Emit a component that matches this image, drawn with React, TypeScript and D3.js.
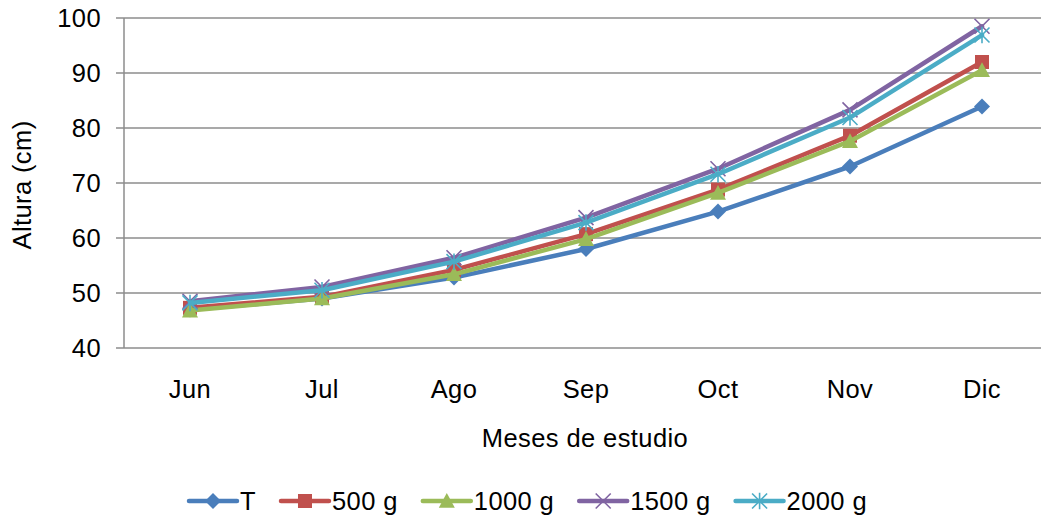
import React from "react";
import * as d3 from "d3";

const months = ["Jun", "Jul", "Ago", "Sep", "Oct", "Nov", "Dic"];
const seriesNames = ["T", "500 g", "1000 g", "1500 g", "2000 g"];
const seriesColors = ["#4A7EBB", "#C0504D", "#9BBB59", "#8064A2", "#4BACC6"];
const seriesMarkers = ["diamond", "square", "triangle", "x", "asterisk"];
const valuesT = [47, 49, 52.8, 58, 64.8, 73, 83.9];
const values500 = [47.3, 49.3, 54.2, 60.7, 68.8, 78.6, 92];
const values1000 = [46.8, 49, 53.4, 59.8, 68.2, 77.6, 90.5];
const values1500 = [48.5, 51.1, 56.4, 63.7, 72.6, 83.3, 98.5];
const values2000 = [48.2, 50.5, 55.7, 62.8, 71.6, 81.9, 96.9];
const yTicks = [40, 50, 60, 70, 80, 90, 100];

const allValues = [valuesT, values500, values1000, values1500, values2000];

const W = 1041;
const H = 517;
const FONT = "'Liberation Sans', Arial, sans-serif";
const GRID = "#8C8C8C";
const FS = 25.5;
const LS = 0.4;

function Marker({ type, x, y, color }: { type: string; x: number; y: number; color: string }) {
  if (type === "diamond") {
    const s = 8;
    return <path d={`M${x},${y - s}L${x + s},${y}L${x},${y + s}L${x - s},${y}Z`} fill={color} />;
  }
  if (type === "square") {
    const s = 7;
    return <rect x={x - s} y={y - s} width={2 * s} height={2 * s} fill={color} />;
  }
  if (type === "triangle") {
    const s = 8;
    return <path d={`M${x},${y - s}L${x + s},${y + s * 0.85}L${x - s},${y + s * 0.85}Z`} fill={color} />;
  }
  if (type === "x") {
    const s = 7.5;
    return (
      <path d={`M${x - s},${y - s}L${x + s},${y + s}M${x - s},${y + s}L${x + s},${y - s}`} stroke={color} strokeWidth={1.6} />
    );
  }
  const s = 7.5;
  return (
    <path
      d={`M${x - s},${y - s}L${x + s},${y + s}M${x - s},${y + s}L${x + s},${y - s}M${x},${y - s * 1.1}L${x},${y + s * 1.1}`}
      stroke={color}
      strokeWidth={1.6}
    />
  );
}

function textWidth(t: string, size: number) {
  const c = document.createElement("canvas").getContext("2d");
  if (!c) return t.length * size * 0.55;
  c.font = `${size}px 'Liberation Sans', Arial, sans-serif`;
  return c.measureText(t).width + LS * t.length;
}

export default function App() {
  const left = 124;
  const top = 18;
  const bottom = 348;
  const step = 132;
  const x = d3
    .scaleBand<string>()
    .domain(months)
    .range([left, left + step * months.length]);
  const y = d3.scaleLinear().domain([40, 100]).range([bottom, top]);
  const cx = (m: string) => (x(m) as number) + x.bandwidth() / 2;

  const line = d3
    .line<number>()
    .x((_, i) => cx(months[i]))
    .y((d) => y(d));

  // legend layout
  const lineLen = 48;
  const gapText = 3;
  const gapItem = 25;
  const widths = seriesNames.map((n) => textWidth(n, FS));
  const totalW = widths.reduce((a, w) => a + lineLen + gapText + w, 0) + gapItem * (seriesNames.length - 1);
  let lx = 528 - totalW / 2;
  const legendItems = seriesNames.map((n, i) => {
    const item = { x: lx, name: n, i };
    lx += lineLen + gapText + widths[i] + gapItem;
    return item;
  });
  const ly = 501;

  return (
    <svg
      width={W}
      height={H}
      style={{ position: "absolute", left: 0, top: 0, background: "#fff" }}
      fontFamily={FONT}
      fontSize={FS}
      letterSpacing={LS}
    >
      {yTicks.map((t) => (
        <g key={t}>
          <line x1={116} x2={W} y1={y(t)} y2={y(t)} stroke={GRID} strokeWidth={1.5} />
          <text x={101} y={y(t)} dy="0.36em" textAnchor="end" fill="#000">
            {t}
          </text>
        </g>
      ))}
      <line x1={left} x2={left} y1={top} y2={bottom} stroke={GRID} strokeWidth={1.5} />
      {months.map((m) => (
        <text key={m} x={cx(m)} y={398} textAnchor="middle" fill="#000">
          {m}
        </text>
      ))}
      <text x={585} y={447} textAnchor="middle" fill="#000">
        Meses de estudio
      </text>
      <text transform={`translate(31,185) rotate(-90)`} textAnchor="middle" fill="#000">
        Altura (cm)
      </text>
      {allValues.map((vals, si) => (
        <g key={si}>
          <path
            d={line(vals) || ""}
            fill="none"
            stroke={seriesColors[si]}
            strokeWidth={4.5}
            strokeLinejoin="round"
            strokeLinecap="round"
          />
          {vals.map((v, i) => (
            <Marker key={i} type={seriesMarkers[si]} x={cx(months[i])} y={y(v)} color={seriesColors[si]} />
          ))}
        </g>
      ))}
      {legendItems.map((it) => (
        <g key={it.name}>
          <line
            x1={it.x}
            x2={it.x + lineLen}
            y1={ly}
            y2={ly}
            stroke={seriesColors[it.i]}
            strokeWidth={4.5}
            strokeLinecap="round"
          />
          <Marker type={seriesMarkers[it.i]} x={it.x + lineLen / 2} y={ly} color={seriesColors[it.i]} />
          <text x={it.x + lineLen + gapText} y={ly} dy="0.36em" fill="#000">
            {it.name}
          </text>
        </g>
      ))}
    </svg>
  );
}
